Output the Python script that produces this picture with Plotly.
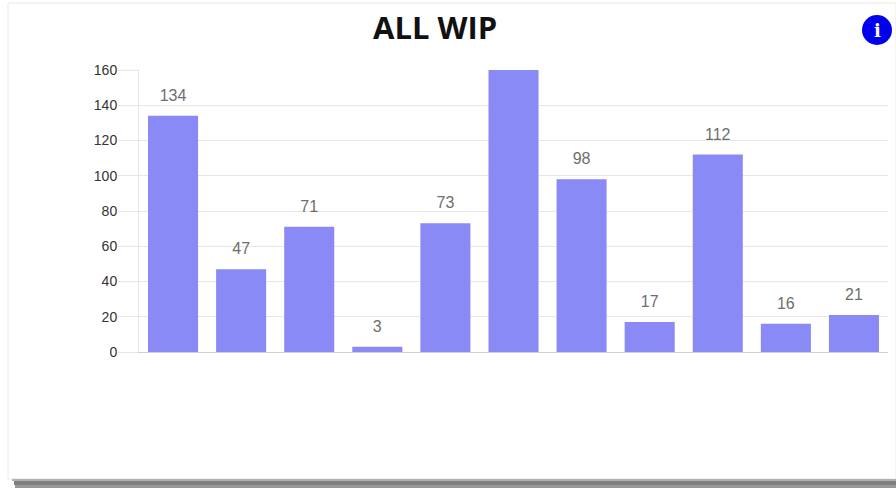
import plotly.graph_objects as go

categories = [str(i) for i in range(1, 12)]
values = [134, 47, 71, 3, 73, 160, 98, 17, 112, 16, 21]
labels = ["134", "47", "71", "3", "73", "", "98", "17", "112", "16", "21"]
tick_values = [0, 20, 40, 60, 80, 100, 120, 140, 160]

W, H = 896, 488
ML, MR, MT, MB = 139, 8, 70, 136


def px(x):
    return (x - ML) / (W - ML - MR)


def py(y):
    return 1 - (y - MT) / (H - MT - MB)


def rect(x0, y0, x1, y1, fill, line=None):
    return dict(type="rect", xref="paper", yref="paper", layer="below",
                x0=px(x0), x1=px(x1), y0=py(y0), y1=py(y1),
                fillcolor=fill, line=dict(width=0) if line is None else dict(color=line, width=1))


fig = go.Figure()
fig.add_trace(go.Bar(
    x=categories, y=values, width=0.735,
    marker=dict(color="#8a8af7", line=dict(width=0)),
    hoverinfo="x+y",
))
fig.add_trace(go.Scatter(
    x=categories, y=values, text=labels, mode="markers+text", textposition="top center",
    marker=dict(size=16, opacity=0), cliponaxis=False,
    textfont=dict(family="Liberation Sans", size=16, color="#6e6e6e"),
    hoverinfo="skip",
))

shapes = [
    rect(8, 3, 896, 479, "#ffffff", "#e8e8e8"),
    rect(12, 479, 896, 481, "#b0b0b0"),
    rect(14, 481, 896, 485, "#808080"),
    rect(15, 485, 896, 488, "#989898"),
    dict(type="circle", xref="paper", yref="paper", x0=px(862), x1=px(892), y0=py(15), y1=py(45),
         fillcolor="#0000ee", line=dict(width=0), layer="above"),
]

fig.update_layout(
    width=W, height=H, autosize=False,
    margin=dict(l=ML, r=MR, t=MT, b=MB, pad=0),
    paper_bgcolor="#ffffff", plot_bgcolor="rgba(0,0,0,0)",
    showlegend=False, bargap=0.265,
    shapes=shapes,
    annotations=[
        dict(text="<b>ALL WIP</b>", xref="paper", yref="paper", x=px(435), y=py(27),
             xanchor="center", yanchor="middle", showarrow=False,
             font=dict(family="Open Sans", size=31, color="#111111")),
        dict(text="<b>i</b>", xref="paper", yref="paper", x=px(877), y=py(30),
             xanchor="center", yanchor="middle", showarrow=False,
             font=dict(family="DejaVu Serif", size=18, color="#ffffff")),
    ],
    xaxis=dict(type="category", range=[-0.5, 10.5], showticklabels=False, ticks="",
               showgrid=False, showline=True, linecolor="#d0d0d0", linewidth=1, zeroline=False),
    yaxis=dict(range=[0, 160], tickmode="array", tickvals=tick_values,
               ticks="outside", ticklen=20, tickcolor="#e6e6e6", tickwidth=1,
               ticklabelstandoff=-2,
               tickfont=dict(family="Liberation Sans", size=14, color="#333333"),
               showgrid=True, gridcolor="#e6e6e6", gridwidth=1, zeroline=False,
               showline=True, linecolor="#e6e6e6", linewidth=1),
)

fig.write_html("out.html", config={"displayModeBar": False},
               post_script="document.body.style.margin='0';document.documentElement.style.overflow='hidden';")
